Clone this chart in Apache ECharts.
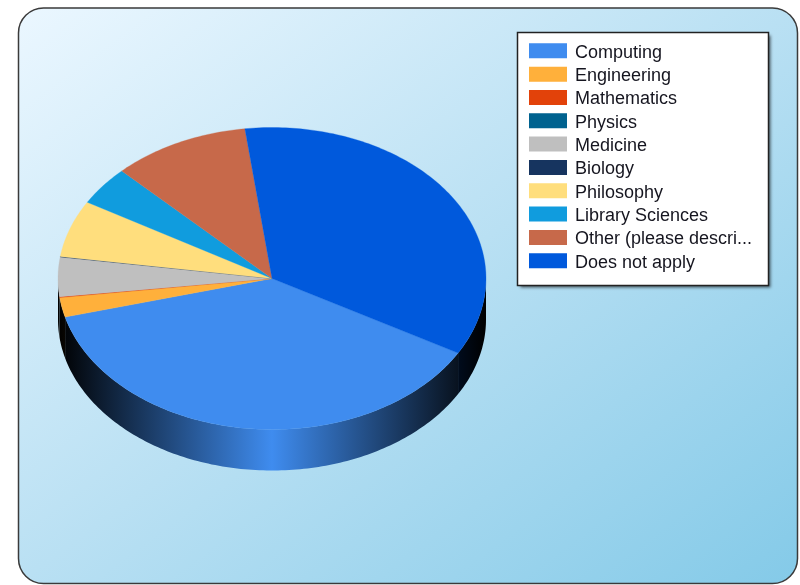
<!DOCTYPE html>
<html><head><meta charset="utf-8">
<style>html,body{margin:0;padding:0;background:#fff}#c{width:800px;height:585px}</style>
<script src="https://cdn.jsdelivr.net/npm/echarts@6/dist/echarts.min.js"></script>
</head><body><div id="c"></div>
<script>
const categories = ['Computing','Engineering','Mathematics','Physics','Medicine','Biology','Philosophy','Library Sciences','Other (please descri...','Does not apply'];
const values = [37.7,2.1,0.1,0,4.2,0.05,6.1,4.2,10.37,35.28];
const colors = ['#3F8CEF','#FFB03B','#E2420A','#00628F','#BFBFBF','#16345F','#FFDE7D','#109CDE','#C7694A','#0059DC'];
const startDeg = 119.6;
const cx = 272, cy = 278.5, rx = 214, ry = 151, depth = 41;

const total = values.reduce((a,b)=>a+b,0);
function pt(deg, dy){
  const t = deg*Math.PI/180;
  return [cx+rx*Math.sin(t), cy-ry*Math.cos(t)+(dy||0)];
}
function arc(a,b,dy){
  const out=[], n=Math.max(2,Math.ceil(Math.abs(b-a)));
  for(let i=0;i<=n;i++) out.push(pt(a+(b-a)*i/n,dy));
  return out;
}
function renderSlice(params){
  const i = params.seriesIndex;
  let before = 0;
  for(let k=0;k<i;k++) before += values[k];
  const a = startDeg+before/total*360, b = a+values[i]/total*360;
  const children = [];
  [[90,270],[450,630]].forEach(function(f){
    const s=Math.max(a,f[0]), e=Math.min(b,f[1]);
    if(e>s){
      const pts = arc(s,e,0).concat(arc(e,s,depth));
      children.push({type:'polygon',z2:1,shape:{points:pts},style:{
        fill:{type:'linear',x:cx-rx,y:0,x2:cx+rx,y2:0,global:true,colorStops:[
          {offset:0,color:'#000'},{offset:0.5,color:colors[i]},{offset:1,color:'#000'}]}}});
    }
  });
  if(b>a){
    children.push({type:'polygon',z2:10,shape:{points:[[cx,cy]].concat(arc(a,b,0))},
      style:{fill:colors[i],stroke:colors[i],lineWidth:0.3}});
  }
  return {type:'group',children:children};
}
const chart = echarts.init(document.getElementById('c'),null,{renderer:'canvas'});
chart.setOption({
  animation:false,
  tooltip:{show:false},
  graphic:[
    {type:'rect',z:0,silent:true,shape:{x:18.5,y:8,width:779,height:575.5,r:25},
     style:{stroke:'#3a3a3a',lineWidth:1.5,fill:{type:'linear',x:18,y:8,x2:567.5,y2:752.4,global:true,colorStops:[
       {offset:0,color:'#EBF7FF'},{offset:0.5,color:'#B9E0F3'},{offset:1,color:'#84CAE8'}]}}},
    {type:'rect',z:1,silent:true,shape:{x:517.5,y:32.5,width:251,height:253},
     style:{fill:'#fff',shadowBlur:3,shadowOffsetX:2,shadowOffsetY:2,shadowColor:'rgba(0,0,0,0.6)'}},
    {type:'rect',z:1,silent:true,shape:{x:517.5,y:32.5,width:251,height:253},
     style:{fill:'#fff',stroke:'#222',lineWidth:1.5}}
  ],
  legend:{
    show:true,orient:'vertical',left:529,top:43.3,padding:0,itemWidth:38,itemHeight:19,itemGap:4.33,
    icon:'path://M0,0L38,0L38,15L0,15ZM0,19L0,19Z',selectedMode:false,align:'left',data:categories,
    textStyle:{fontFamily:'Liberation Sans',fontSize:18,color:'#15151f',height:15,lineHeight:15,padding:[0,0,0,3]}
  },
  series: categories.map(function(name,i){
    return {type:'custom',name:name,coordinateSystem:'none',z:2,silent:true,
      itemStyle:{color:colors[i]},data:[[values[i]]],renderItem:renderSlice};
  })
});
</script></body></html>
